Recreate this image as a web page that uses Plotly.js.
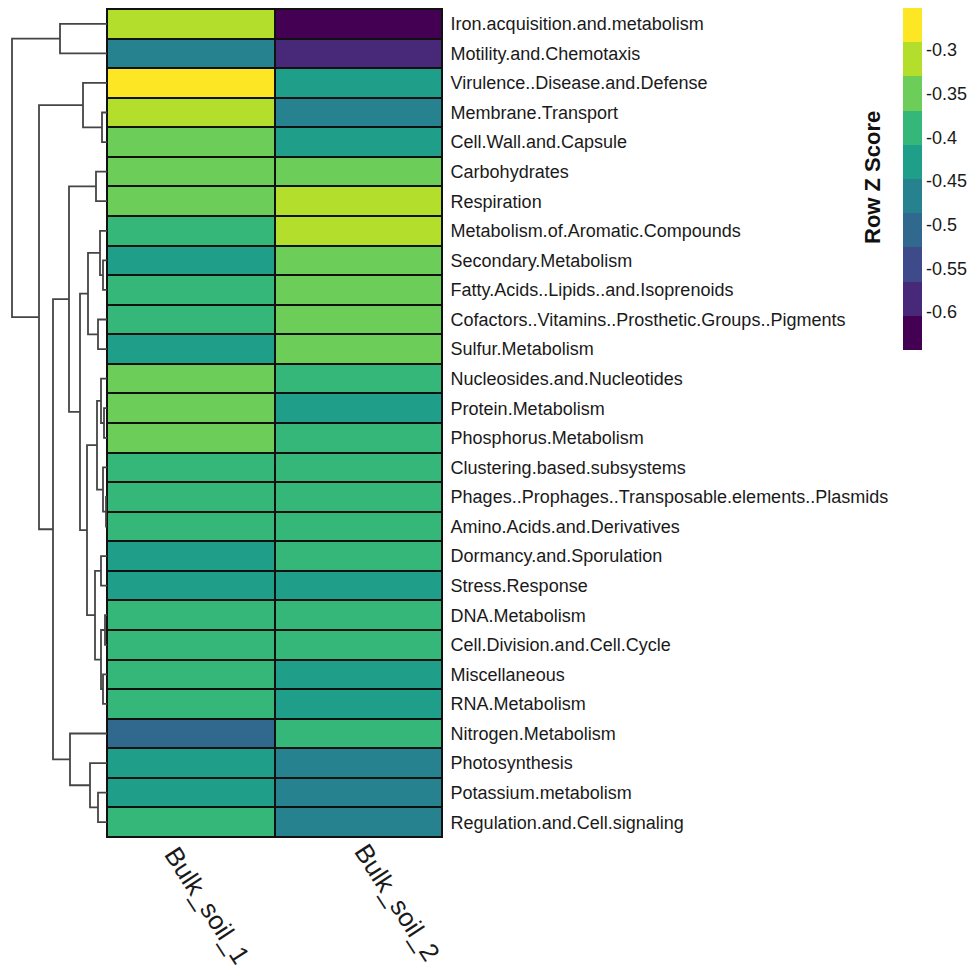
<!DOCTYPE html>
<html>
<head>
<meta charset="utf-8">
<script src="https://cdn.plot.ly/plotly-3.0.1.min.js"></script>
<style>
  html, body { margin: 0; padding: 0; background: #ffffff; }
  #chart { width: 975px; height: 975px; }
</style>
</head>
<body>
<div id="chart"></div>
<script>
// Functional categories (rows, top to bottom in dendrogram order)
const categories = [
  "Iron.acquisition.and.metabolism",
  "Motility.and.Chemotaxis",
  "Virulence..Disease.and.Defense",
  "Membrane.Transport",
  "Cell.Wall.and.Capsule",
  "Carbohydrates",
  "Respiration",
  "Metabolism.of.Aromatic.Compounds",
  "Secondary.Metabolism",
  "Fatty.Acids..Lipids..and.Isoprenoids",
  "Cofactors..Vitamins..Prosthetic.Groups..Pigments",
  "Sulfur.Metabolism",
  "Nucleosides.and.Nucleotides",
  "Protein.Metabolism",
  "Phosphorus.Metabolism",
  "Clustering.based.subsystems",
  "Phages..Prophages..Transposable.elements..Plasmids",
  "Amino.Acids.and.Derivatives",
  "Dormancy.and.Sporulation",
  "Stress.Response",
  "DNA.Metabolism",
  "Cell.Division.and.Cell.Cycle",
  "Miscellaneous",
  "RNA.Metabolism",
  "Nitrogen.Metabolism",
  "Photosynthesis",
  "Potassium.metabolism",
  "Regulation.and.Cell.signaling"
];

// Samples (columns)
const samples = ["Bulk_soil_1", "Bulk_soil_2"];

// Row Z scores per sample
const bulkSoil1 = [
  -0.312, -0.468, -0.254, -0.305, -0.352, -0.348, -0.345, -0.384,
  -0.421, -0.392, -0.388, -0.418, -0.358, -0.355, -0.352, -0.386,
  -0.389, -0.387, -0.421, -0.424, -0.391, -0.385, -0.383, -0.381,
  -0.505, -0.418, -0.414, -0.395
];
const bulkSoil2 = [
  -0.641, -0.588, -0.431, -0.466, -0.425, -0.356, -0.318, -0.314,
  -0.352, -0.347, -0.344, -0.351, -0.381, -0.419, -0.384, -0.382,
  -0.385, -0.386, -0.384, -0.415, -0.387, -0.389, -0.413, -0.418,
  -0.383, -0.469, -0.472, -0.466
];

// Colour key limits and ticks
const zLimits = [-0.6435, -0.252];
const keyTicks = [-0.3, -0.35, -0.4, -0.45, -0.5, -0.55, -0.6];
const keyTickText = ["-0.3", "-0.35", "-0.4", "-0.45", "-0.5", "-0.55", "-0.6"];

// viridis, 10 steps
const palette = ["#440154", "#482878", "#3E4A89", "#31688E", "#26828E",
                 "#1F9E89", "#35B779", "#6DCD59", "#B4DE2C", "#FDE725"];

// Row clustering, hclust-style merges: negative = leaf (1-based row), positive = earlier merge
const rowMerges = [
  [-1, -2, 0.47],
  [-4, -5, 0.05],
  [-3, 2, 0.24],
  [-6, -7, 0.11],
  [-9, -10, 0.04],
  [-8, 5, 0.07],
  [-11, -12, 0.09],
  [6, 7, 0.19],
  [-14, -15, 0.03],
  [-13, 9, 0.06],
  [-17, -18, 0.01],
  [-16, 11, 0.04],
  [10, 12, 0.10],
  [-19, -20, 0.06],
  [-21, -22, 0.02],
  [-23, -24, 0.04],
  [15, 16, 0.06],
  [14, 17, 0.12],
  [13, 18, 0.20],
  [8, 19, 0.27],
  [4, 20, 0.38],
  [-27, -28, 0.09],
  [-26, 22, 0.17],
  [-25, 23, 0.37],
  [21, 24, 0.54],
  [3, 25, 0.68],
  [1, 26, 0.95]
];

// ---- build heatmap matrix ----
const z = categories.map((_, i) => [bulkSoil1[i], bulkSoil2[i]]);
const rowIdx = categories.map((_, i) => i);

const stepScale = [];
palette.forEach((c, i) => {
  stepScale.push([i / palette.length, c]);
  stepScale.push([(i + 1) / palette.length, c]);
});

// ---- dendrogram segments ----
const nodePos = [];
function pos(ref) {
  if (ref < 0) return { y: -ref - 1, h: 0 };
  return nodePos[ref - 1];
}
const dx = [], dy = [];
rowMerges.forEach(([a, b, h]) => {
  const pa = pos(a), pb = pos(b);
  dx.push(pa.h, h, h, pb.h, null);
  dy.push(pa.y, pa.y, pb.y, pb.y, null);
  nodePos.push({ y: (pa.y + pb.y) / 2, h: h });
});

const W = 975, H = 975;
const px = v => v / W, py = v => 1 - v / H;
const textFont = "Liberation Sans, Arial, sans-serif";

const heat = {
  type: "heatmap",
  x: [0, 1],
  y: rowIdx,
  z: z,
  zmin: zLimits[0],
  zmax: zLimits[1],
  colorscale: stepScale,
  xgap: 2,
  ygap: 2,
  hoverinfo: "skip",
  colorbar: {
    x: px(903), xanchor: "left", xpad: 0,
    y: py(8), yanchor: "top", ypad: 0,
    len: 342, lenmode: "pixels",
    thickness: 19,
    outlinewidth: 0,
    ticks: "",
    tickvals: keyTicks,
    ticktext: keyTickText,
    tickfont: { family: textFont, size: 18, color: "#1a1a1a" }
  }
};

const dendro = {
  type: "scatter",
  mode: "lines",
  x: dx,
  y: dy,
  xaxis: "x2",
  yaxis: "y",
  line: { color: "#454545", width: 1.8 },
  hoverinfo: "skip",
  showlegend: false
};

const layout = {
  width: W,
  height: H,
  margin: { l: 0, r: 0, t: 0, b: 0, pad: 0 },
  paper_bgcolor: "#ffffff",
  plot_bgcolor: "#ffffff",
  showlegend: false,
  xaxis: {
    domain: [px(107), px(442)],
    range: [-0.5, 1.5],
    ticks: "",
    showticklabels: false,
    showgrid: false, zeroline: false,
    showline: true, mirror: true, linecolor: "#111111", linewidth: 1,
    fixedrange: true
  },
  yaxis: {
    domain: [py(837), py(9)],
    range: [27.5, -0.5],
    anchor: "x",
    side: "right",
    tickvals: rowIdx,
    ticktext: categories,
    ticks: "",
    ticklabelstandoff: 4,
    tickfont: { family: textFont, size: 18, color: "#1a1a1a" },
    showgrid: false, zeroline: false,
    showline: true, mirror: true, linecolor: "#111111", linewidth: 1,
    fixedrange: true
  },
  xaxis2: {
    domain: [0, px(107)],
    range: [1.07, 0],
    anchor: "y",
    visible: false,
    fixedrange: true
  },
  shapes: [{
    type: "rect", xref: "x domain", yref: "y domain",
    x0: 0, x1: 1, y0: 0, y1: 1,
    fillcolor: "#111111", line: { width: 0 }, layer: "below"
  }],
  annotations: [
    {
      text: "Row Z Score",
      xref: "paper", yref: "paper",
      x: px(872), y: py(178),
      xanchor: "center", yanchor: "middle",
      textangle: -90, showarrow: false,
      font: { family: textFont, size: 22, color: "#111111", weight: "bold" }
    }
  ].concat(samples.map((s, i) => ({
    text: s,
    xref: "paper", yref: "paper",
    x: px([207, 397][i]), y: py([905, 902][i]),
    xanchor: "center", yanchor: "middle",
    textangle: 57, showarrow: false,
    font: { family: textFont, size: 26, color: "#1a1a1a" }
  })))
};

Plotly.newPlot("chart", [heat, dendro], layout, { staticPlot: true, displayModeBar: false });
</script>
</body>
</html>
